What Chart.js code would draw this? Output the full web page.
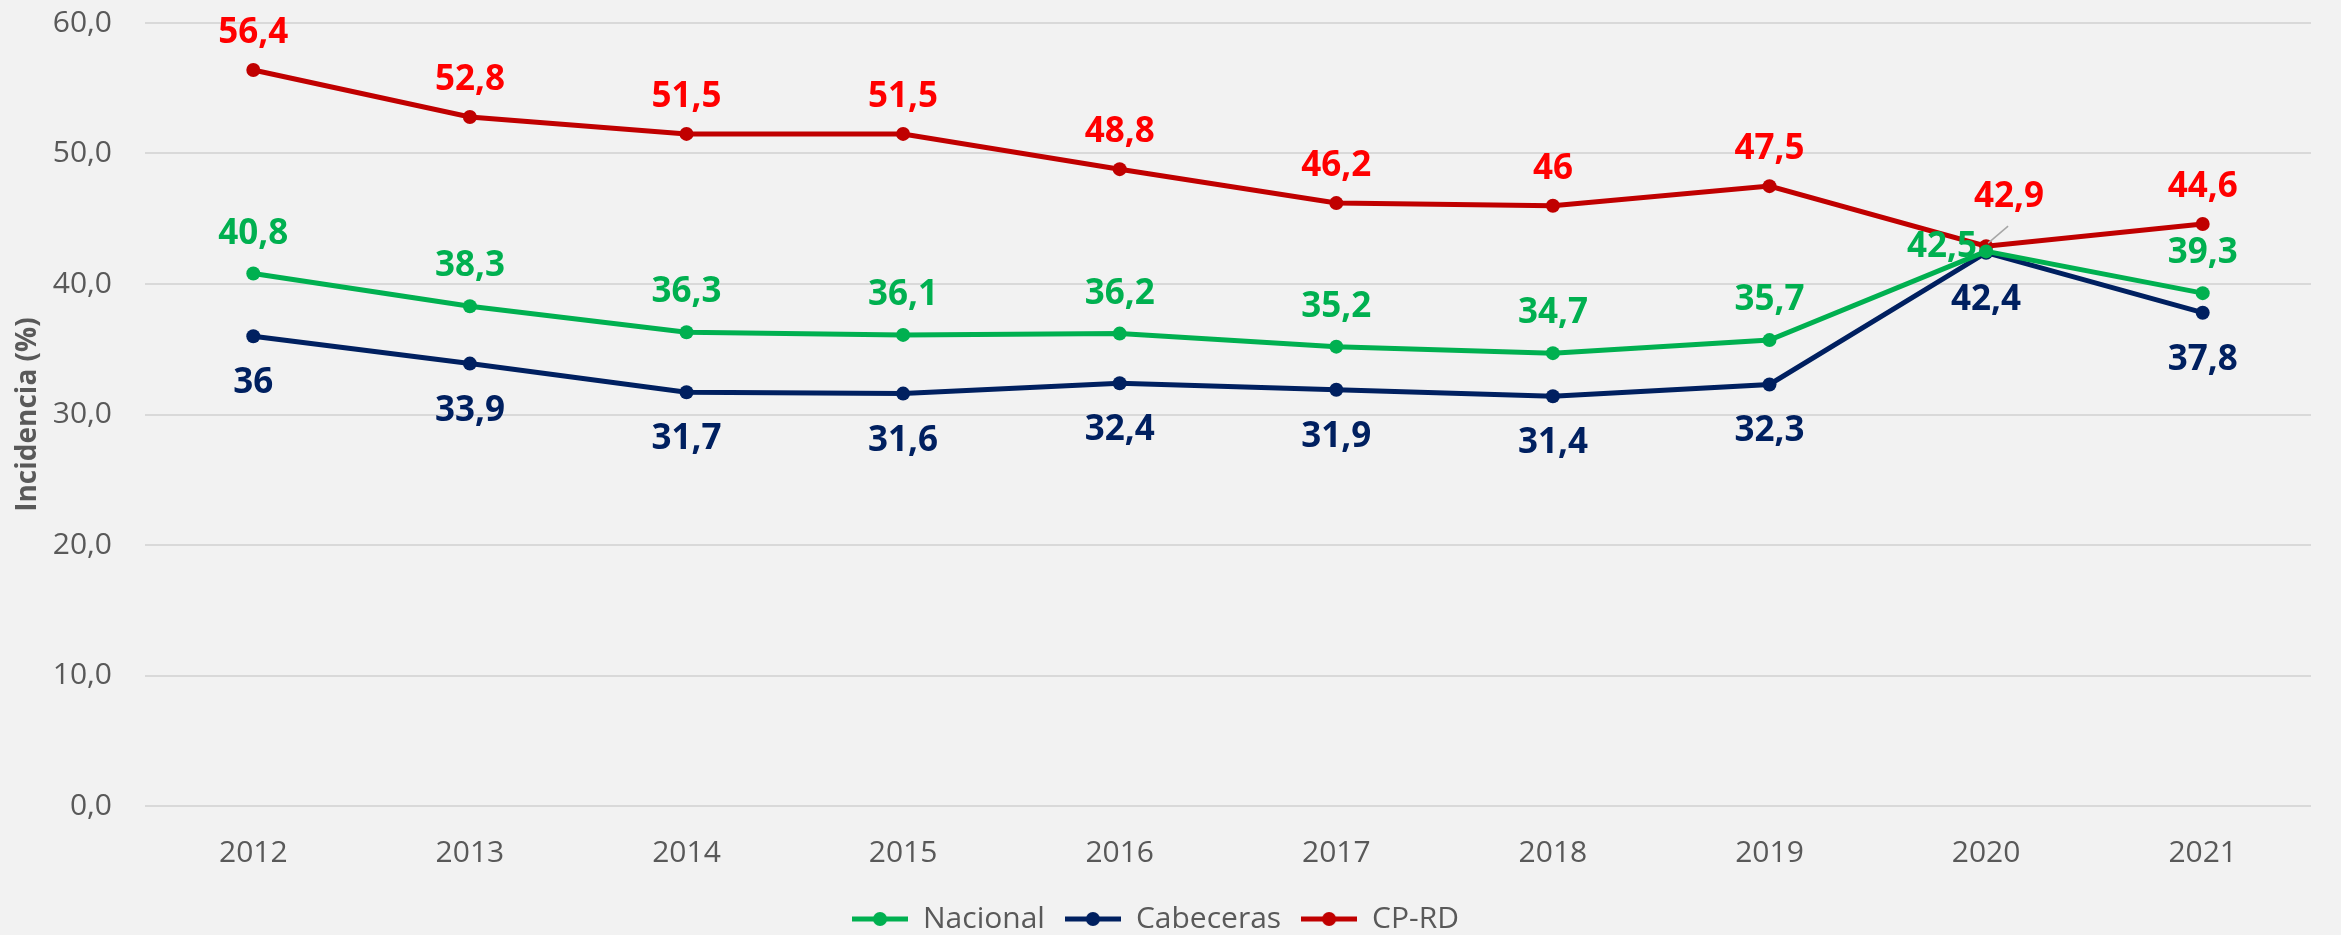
<!DOCTYPE html>
<html>
<head>
<meta charset="utf-8">
<script src="https://cdn.jsdelivr.net/npm/chart.js@4/dist/chart.umd.min.js"></script>
<style>
  html, body { margin: 0; padding: 0; background: #F2F2F2; }
  #wrap { width: 2341px; height: 935px; position: relative; }
</style>
</head>
<body>
<div id="wrap"><canvas id="chart"></canvas></div>
<script>
// Data
const years = ['2012', '2013', '2014', '2015', '2016', '2017', '2018', '2019', '2020', '2021'];
const nacional = [40.8, 38.3, 36.3, 36.1, 36.2, 35.2, 34.7, 35.7, 42.5, 39.3];
const cabeceras = [36, 33.9, 31.7, 31.6, 32.4, 31.9, 31.4, 32.3, 42.4, 37.8];
const cpRd = [56.4, 52.8, 51.5, 51.5, 48.8, 46.2, 46, 47.5, 42.9, 44.6];

const FONT = "'Open Sans', 'Noto Sans', sans-serif";
const GRAY = '#595959';

// legend swatch: line with a dot in the middle
function swatch(color) {
  const c = document.createElement('canvas');
  c.width = 56;
  c.height = 16;
  const ctx = c.getContext('2d');
  ctx.strokeStyle = color;
  ctx.lineWidth = 5;
  ctx.beginPath();
  ctx.moveTo(0, 8);
  ctx.lineTo(56, 8);
  ctx.stroke();
  ctx.fillStyle = color;
  ctx.beginPath();
  ctx.arc(28, 8, 7, 0, Math.PI * 2);
  ctx.fill();
  return c;
}

function fmt(v) {
  return String(v).replace('.', ',');
}

// Draw value labels next to each point
const valueLabels = {
  id: 'valueLabels',
  afterDatasetsDraw(chart, args, opts) {
    const ctx = chart.ctx;
    ctx.save();
    ctx.font = 'bold 35px ' + FONT;
    ctx.textAlign = 'center';
    ctx.textBaseline = 'middle';
    chart.data.datasets.forEach((ds, di) => {
      const meta = chart.getDatasetMeta(di);
      const cfg = opts.series[di];
      meta.data.forEach((pt, i) => {
        const over = (cfg.overrides && cfg.overrides[i]) || {};
        const dx = over.dx || 0;
        const dy = over.dy !== undefined ? over.dy : cfg.dy;
        const x = pt.x + dx;
        const y = pt.y + dy;
        if (over.leader) {
          ctx.strokeStyle = '#A6A6A6';
          ctx.lineWidth = 1.5;
          ctx.beginPath();
          ctx.moveTo(pt.x + 2, pt.y - 3);
          ctx.lineTo(pt.x + over.leader[0], pt.y + over.leader[1]);
          ctx.stroke();
        }
        ctx.fillStyle = cfg.color;
        ctx.fillText(fmt(ds.data[i]), x, y);
      });
    });
    ctx.restore();
  }
};

function lineSet(label, data, color) {
  return {
    label: label,
    data: data,
    borderColor: color,
    backgroundColor: color,
    borderWidth: 5,
    pointRadius: 7,
    pointHoverRadius: 7,
    pointBorderWidth: 0,
    pointBackgroundColor: color,
    pointStyle: 'circle',
    tension: 0,
    fill: false,
  };
}

const ctx = document.getElementById('chart').getContext('2d');
const legendIcons = [swatch('#00B050'), swatch('#002060'), swatch('#C00000')];

new Chart(ctx, {
  type: 'line',
  data: {
    labels: years,
    datasets: [
      lineSet('Nacional', nacional, '#00B050'),
      lineSet('Cabeceras', cabeceras, '#002060'),
      lineSet('CP-RD', cpRd, '#C00000'),
    ],
  },
  plugins: [valueLabels],
  options: {
    responsive: true,
    maintainAspectRatio: false,
    animation: false,
    layout: { padding: { top: 23, right: 30, left: 0, bottom: -9 } },
    plugins: {
      tooltip: { enabled: false },
      legend: {
        position: 'bottom',
        labels: {
          font: { family: FONT, size: 30 },
          color: GRAY,
          usePointStyle: true,
          pointStyleWidth: 56,
          boxHeight: 16,
          padding: 20,
          generateLabels(chart) {
            return chart.data.datasets.map((ds, i) => ({
              text: ds.label,
              fillStyle: ds.borderColor,
              strokeStyle: ds.borderColor,
              fontColor: GRAY,
              pointStyle: legendIcons[i],
              lineWidth: 0,
              hidden: false,
              datasetIndex: i,
            }));
          },
        },
      },
      valueLabels: {
        series: [
          { color: '#00B050', dy: -40, overrides: { 8: { dx: -44, dy: -4 } } },
          { color: '#002060', dy: 47 },
          { color: '#FF0000', dy: -37, overrides: { 8: { dx: 23, dy: -49, leader: [22, -20] } } },
        ],
      },
    },
    scales: {
      x: {
        offset: true,
        grid: { display: false, drawTicks: false },
        border: { display: false },
        ticks: {
          font: { family: FONT, size: 30 },
          color: GRAY,
          padding: 29,
        },
        afterFit(scale) {
          scale.height = 78;
        },
      },
      y: {
        min: 0,
        max: 60,
        grid: { color: '#D9D9D9', lineWidth: 2, drawTicks: false },
        border: { display: false },
        ticks: {
          stepSize: 10,
          font: { family: FONT, size: 30 },
          color: GRAY,
          padding: 33,
          callback: (v) => v.toFixed(1).replace('.', ','),
        },
        title: {
          display: true,
          text: 'Incidencia (%)',
          font: { family: FONT, size: 28, weight: 'bold' },
          color: GRAY,
          padding: { top: 11, bottom: 0 },
        },
        afterFit(scale) {
          scale.width = 145;
          scale.paddingTop = 0;
          scale.paddingBottom = 0;
        },
      },
    },
  },
});
</script>
</body>
</html>
